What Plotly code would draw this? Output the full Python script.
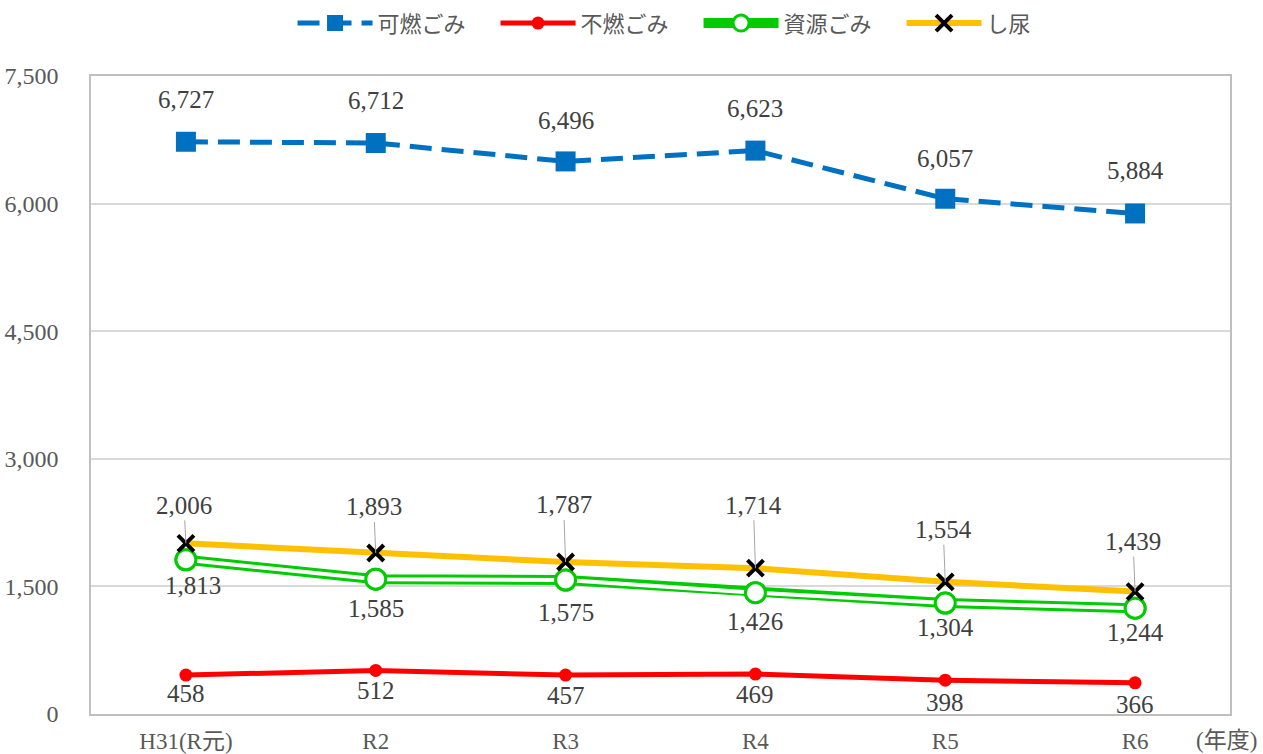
import plotly.graph_objects as go

categories = ["H31(R元)", "R2", "R3", "R4", "R5", "R6"]
kanen = [6727, 6712, 6496, 6623, 6057, 5884]
funen = [458, 512, 457, 469, 398, 366]
shigen = [1813, 1585, 1575, 1426, 1304, 1244]
shinyo = [2006, 1893, 1787, 1714, 1554, 1439]
y_ticks = [0, 1500, 3000, 4500, 6000, 7500]

# label pixel offsets (style only)
kanen_shift = [42, 43, 41, 42, 40, 43]
funen_shift = [-18, -20, -20, -20, -22, -22]
shigen_shift = [-26, -29, -32, -29, -24, -24]
shinyo_ay = [-38, -46, -57, -63, -52, -50]

BLUE = "#0070C0"
RED = "#FF0000"
GREEN = "#00CC00"
YELLOW = "#FFC000"
NUMFONT = "Liberation Serif, Noto Sans CJK JP"
TXT = "#404040"
LBL = 25

fig = go.Figure()

fig.add_trace(go.Scatter(
    x=categories, y=kanen, name="可燃ごみ", mode="lines+markers",
    line=dict(color=BLUE, width=5, dash="22px,10px"),
    marker=dict(symbol="square", size=20, color=BLUE),
))
fig.add_trace(go.Scatter(
    x=categories, y=funen, name="不燃ごみ", mode="lines+markers",
    line=dict(color=RED, width=5),
    marker=dict(symbol="circle", size=13, color=RED),
))
fig.add_trace(go.Scatter(
    x=categories, y=shigen, name="資源ごみ", mode="lines+markers",
    line=dict(color=GREEN, width=10),
    marker=dict(symbol="circle", size=20, color="white", line=dict(color=GREEN, width=3)),
))
fig.add_trace(go.Scatter(
    x=categories, y=shigen, mode="lines", showlegend=False, hoverinfo="skip",
    line=dict(color="white", width=4),
))
fig.add_trace(go.Scatter(
    x=categories, y=shigen, mode="markers", showlegend=False,
    marker=dict(symbol="circle", size=20, color="white", line=dict(color=GREEN, width=3)),
))
fig.add_trace(go.Scatter(
    x=categories, y=shinyo, name="し尿", mode="lines+markers",
    line=dict(color=YELLOW, width=6),
    marker=dict(symbol="x-thin", size=16, color="black", line=dict(color="black", width=4)),
))

annotations = []
for i, c in enumerate(categories):
    annotations.append(dict(x=c, y=kanen[i], text=f"{kanen[i]:,}", showarrow=False,
                            yshift=kanen_shift[i], font=dict(family=NUMFONT, size=LBL, color=TXT)))
    annotations.append(dict(x=c, y=funen[i], text=f"{funen[i]:,}", showarrow=False,
                            yshift=funen_shift[i], font=dict(family=NUMFONT, size=LBL, color=TXT)))
    annotations.append(dict(x=c, y=shigen[i], text=f"{shigen[i]:,}", showarrow=False,
                            yshift=shigen_shift[i], xshift=(7 if i == 0 else 0),
                            font=dict(family=NUMFONT, size=LBL, color=TXT)))
    annotations.append(dict(x=c, y=shinyo[i], text=f"{shinyo[i]:,}", showarrow=True,
                            arrowhead=0, arrowwidth=1, arrowcolor="#A6A6A6",
                            ax=-2, ay=shinyo_ay[i], standoff=0,
                            font=dict(family=NUMFONT, size=LBL, color=TXT)))

annotations.append(dict(xref="paper", yref="paper", x=0.9965, y=-0.041, xanchor="center", yanchor="middle",
                        text="(年度)", showarrow=False,
                        font=dict(family=NUMFONT, size=23, color="#595959")))

fig.update_layout(
    width=1263, height=754,
    margin=dict(l=91, r=33, t=76, b=40, autoexpand=False),
    paper_bgcolor="white", plot_bgcolor="white",
    font=dict(family=NUMFONT, size=23, color="#595959"),
    legend=dict(orientation="h", x=0.5334, xanchor="center", y=0.997, yref="container", yanchor="top",
                font=dict(family="Noto Sans CJK JP", size=22, color="#595959"),
                itemwidth=75, entrywidth=113, entrywidthmode="pixels", traceorder="normal"),
    annotations=annotations,
    showlegend=True,
)
fig.update_xaxes(
    type="category", range=[-0.5, 5.5], showgrid=False,
    showline=True, linecolor="#BFBFBF", linewidth=1.5, mirror=True,
    ticks="", ticklabelstandoff=6,
    tickfont=dict(family=NUMFONT, size=23, color="#595959"),
)
fig.update_yaxes(
    range=[0, 7500], tickvals=y_ticks, tickformat=",d",
    showgrid=True, gridcolor="#D9D9D9", gridwidth=1.5,
    showline=True, linecolor="#BFBFBF", linewidth=1.5, mirror=True,
    zeroline=False, ticks="", ticklabelstandoff=26,
    tickfont=dict(family=NUMFONT, size=24, color="#595959"),
)

fig.write_html("out.html", config={"displayModeBar": False},
               post_script="document.body.style.margin='0';document.body.style.overflow='hidden';")
